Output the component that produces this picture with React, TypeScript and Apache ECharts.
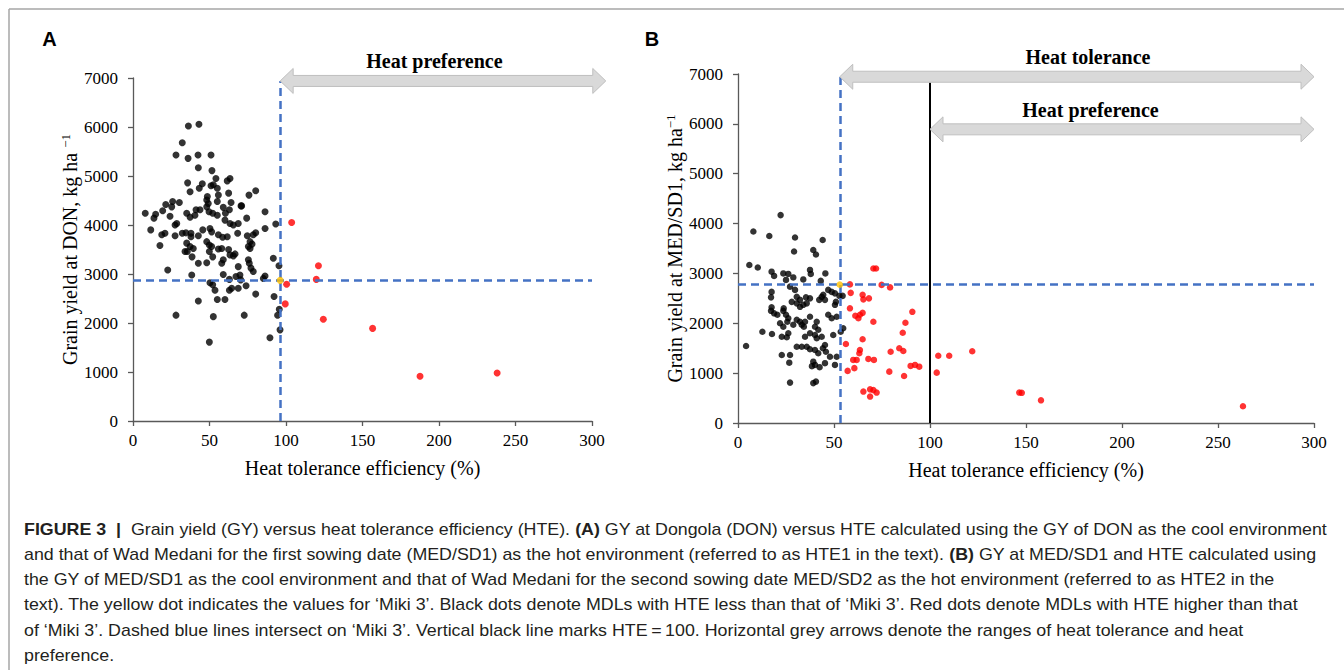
import React, { useEffect, useRef } from "react";
import * as echarts from "echarts";

// ---------- DATA ----------
const xTicks = [0, 50, 100, 150, 200, 250, 300];
const yTicks = [0, 1000, 2000, 3000, 4000, 5000, 6000, 7000];

// Panel A: GY at DON vs HTE1
const aBlack: number[][] = [
  [36.2,6020],[43.1,6055],[32.2,5680],[28.1,5430],[36,5360],[42.5,5430],[51,5430],[42.7,5170],[51.6,5110],[54.2,4950],
  [63.4,4950],[61.6,4900],[35.7,4860],[45.3,4840],[43.3,4750],[37.3,4680],[51,4800],[52.5,4820],[55.1,4750],[55.8,4610],
  [62.5,4650],[75.8,4610],[80.2,4700],[48.6,4580],[48.2,4510],[49.2,4440],[55.1,4480],[64.1,4460],[70.6,4390],[21.4,4420],
  [25.9,4480],[30.3,4460],[25.3,4370],[19.4,4290],[14.8,4220],[8,4240],[13.7,4140],[24.2,4180],[28.6,4030],[27.5,4000],
  [35.1,4240],[37.3,4160],[41.2,4310],[43.8,4310],[40.5,4200],[48.2,4370],[49.7,4270],[52.1,4240],[55.1,4200],[59,4360],
  [63,4310],[60.4,4240],[71,4390],[74.3,4140],[86.3,4270],[60.1,4100],[63.4,4030],[65.6,4000],[68.8,4030],[93.3,4020],
  [11.6,3900],[18.8,3800],[17.6,3580],[20.9,3830],[27.5,3780],[32.2,3830],[34.6,3840],[37.9,3830],[37.9,3760],[42.7,3780],
  [45.6,3900],[50.3,3930],[51.4,3860],[55.8,3800],[58.6,3750],[61.6,3760],[68.4,3830],[74.7,3780],[78.6,3800],[80.2,3840],
  [86.3,3930],[35.1,3630],[37.3,3560],[39.4,3520],[35.5,3460],[48.2,3660],[49.9,3590],[51.4,3560],[49.9,3460],[55.8,3510],
  [58,3520],[62.5,3500],[63.4,3390],[66.7,3410],[76.5,3660],[77.8,3610],[75.4,3560],[76.5,3520],[34,3460],[38.6,3350],
  [42.7,3220],[48.2,3230],[52.1,3350],[58,3220],[59,3290],[65.6,3370],[68.8,3150],[75.4,3290],[76,3220],[77.1,3120],
  [78.6,3050],[91.7,3320],[95.4,3170],[22.7,3080],[38.4,2980],[59,2990],[63,2890],[67.3,2950],[69.9,2980],[70.4,2880],
  [73.9,2760],[86.3,2960],[85.2,2910],[50.3,2820],[52.1,2780],[53.6,2670],[63,2670],[64.5,2710],[68.8,2710],[80.2,2590],
  [92.2,2540],[42.7,2450],[55.1,2480],[60.1,2480],[95.6,2280],[94.5,2160],[28.1,2160],[52.5,2130],[72.7,2160],[96.1,1860],
  [89.5,1700],[49.9,1610]
];
const aRed: number[][] = [
  [103.7,4050],[121.2,3170],[119.8,2890],[100.4,2790],[99.5,2390],[124.4,2075],[156.6,1890],[187.6,912],[238,980]
];
const aMiki: number[] = [96.2, 2870];

// Panel B: GY at MED/SD1 vs HTE2
const bBlack: number[][] = [
  [22.2,4170],[8,3840],[16.3,3750],[29.7,3720],[44.1,3670],[29.2,3440],[39.2,3470],[40.6,3380],[5.9,3170],[10.3,3120],
  [17.5,3035],[18.8,2950],[23.6,3000],[26.2,2990],[28.8,2920],[25,2870],[34,2880],[37.5,3070],[37.9,2990],[45.5,3000],
  [43.1,2850],[27.1,2735],[29.7,2670],[30.6,2530],[32.3,2470],[35.4,2520],[37.5,2500],[47,2670],[48.8,2630],[50.5,2600],
  [52.8,2550],[54.5,2550],[43.6,2530],[44.4,2570],[42.3,2470],[45.3,2470],[17.5,2630],[17.2,2520],[17.5,2320],[17.2,2250],
  [18.8,2200],[20.5,2170],[23.6,2250],[25,2170],[26.2,2100],[28,2430],[30.6,2400],[32.3,2330],[34,2370],[35.8,2400],
  [21.9,2000],[23.6,1930],[25.7,2030],[28.8,1970],[30.6,2070],[32.3,2030],[33.2,1970],[34.9,2030],[37.5,2130],[41,2030],
  [40.1,1930],[41.8,1870],[47,2170],[48.8,2100],[51.4,2130],[50.5,2370],[51,2430],[12.7,1830],[17.7,1785],[22.8,1730],
  [25.4,1720],[26.2,1800],[34.9,1730],[37.5,1800],[40.1,1765],[41,1700],[43.6,1730],[49.6,1765],[53.5,1830],[54.8,1900],
  [4.2,1545],[30.6,1530],[33.2,1530],[35.8,1530],[37.5,1480],[40.1,1465],[41.8,1400],[45.3,1565],[45.8,1430],[47.9,1330],
  [51.4,1330],[22.8,1365],[27.1,1365],[26.7,1210],[39.2,1230],[40.1,1165],[45.3,1200],[50.5,1165],[27.1,810],[39.2,800],
  [40.6,830],[23.8,2300],[42.5,1120],[38.5,1140],[44.2,1500],[34.3,1930]
];
const bRed: number[][] = [
  [58.3,2780],[58.7,2610],[70.5,3100],[71.9,3100],[74.8,2770],[79.2,2720],[64.9,2570],[65.3,2480],[68.2,2500],[58.3,2300],
  [61.1,2150],[62.7,2100],[63.5,2170],[64.9,2210],[70.5,2030],[90.8,2230],[87.2,2010],[85.8,1810],[64.9,1680],[56.2,1585],
  [63.5,1465],[63.2,1400],[61.8,1265],[60,1265],[67.9,1285],[70.8,1265],[79.5,1430],[84,1500],[86.1,1445],[89.9,1145],
  [92.2,1165],[94.4,1130],[86.5,943],[57.1,1045],[60.6,1100],[78.8,1030],[103.5,1010],[104.3,1350],[110,1350],[122,1440],
  [146.5,610],[147.8,605],[157.8,455],[263,335],[65.3,630],[68.8,675],[70.5,660],[72.2,610],[68.8,530]
];
const bMiki: number[] = [53, 2775];
const hte100 = 100;

// Arrows: [grid, fromX, toX, atY, label, labelCenterX]
const arrows: [number, number, number, number, string, number][] = [
  [0, 96.2, 309, 6940, "Heat preference", 197],
  [1, 53, 300, 6945, "Heat tolerance", 182.3],
  [1, 100, 300, 5890, "Heat preference", 183.6],
];

const captionLines: string[] = [
  "{b|FIGURE 3}  {b||}  Grain yield (GY) versus heat tolerance efficiency (HTE). {b|(A)} GY at Dongola (DON) versus HTE calculated using the GY of DON as the cool environment",
  "and that of Wad Medani for the first sowing date (MED/SD1) as the hot environment (referred to as HTE1 in the text). {b|(B)} GY at MED/SD1 and HTE calculated using",
  "the GY of MED/SD1 as the cool environment and that of Wad Medani for the second sowing date MED/SD2 as the hot environment (referred to as HTE2 in the",
  "text). The yellow dot indicates the values for \u2018Miki 3\u2019. Black dots denote MDLs with HTE less than that of \u2018Miki 3\u2019. Red dots denote MDLs with HTE higher than that",
  "of \u2018Miki 3\u2019. Dashed blue lines intersect on \u2018Miki 3\u2019. Vertical black line marks HTE\u2009=\u2009100. Horizontal grey arrows denote the ranges of heat tolerance and heat",
  "preference.",
];

const SERIF = "Liberation Serif";
const SANS = "Liberation Sans";

export default function App() {
  const ref = useRef<HTMLDivElement>(null);
  useEffect(() => {
    if (!ref.current) return;
    const chart = echarts.init(ref.current, null, { renderer: "svg" });

    const axisColor = "#595959";
    const tickLabel = { fontFamily: SERIF, fontSize: 17, color: "#000" };
    const mkX = (gi: number) => ({
      type: "value", gridIndex: gi, min: 0, max: 300, interval: 50,
      name: "Heat tolerance efficiency (%)", nameLocation: "middle", nameGap: 37,
      nameTextStyle: { fontFamily: SERIF, fontSize: 20, color: "#000" },
      axisLine: { show: true, onZero: false, lineStyle: { color: axisColor, width: 1.3 } },
      axisTick: { show: true, inside: false, length: 5, lineStyle: { color: axisColor, width: 1.3 } },
      axisLabel: { ...tickLabel, margin: 11,
        formatter: (v: number) => (xTicks.includes(v) ? String(v) : "") },
      splitLine: { show: false },
    });
    const mkY = (gi: number, name: string, gap: number) => ({
      type: "value", gridIndex: gi, min: 0, max: 7000, interval: 1000,
      name, nameLocation: "middle", nameGap: gap,
      nameTextStyle: {
        fontFamily: SERIF, fontSize: 20, color: "#000",
        rich: {
          n: { fontFamily: SERIF, fontSize: 20, lineHeight: 22, color: "#000" },
          s: { fontFamily: SERIF, fontSize: 13, lineHeight: 12, verticalAlign: "top", color: "#000" },
        },
      },
      axisLine: { show: true, onZero: false, lineStyle: { color: axisColor, width: 1.3 } },
      axisTick: { show: true, inside: false, length: 5, lineStyle: { color: axisColor, width: 1.3 } },
      axisLabel: { ...tickLabel, margin: 15,
        formatter: (v: number) => (yTicks.includes(v) ? String(v) : "") },
      splitLine: { show: false },
    });

    const dash = { color: "#4472c4", width: 2.5, type: [8, 5] };

    const option: any = {
      animation: false,
      backgroundColor: "#fff",
      textStyle: { fontFamily: SERIF },
      grid: [
        { left: 133, top: 78, width: 459, height: 343 },
        { left: 738, top: 74, width: 576, height: 349 },
      ],
      xAxis: [mkX(0), mkX(1)],
      yAxis: [
        mkY(0, "{n|Grain yield at DON, kg ha }{s|\u22121}", 52),
        mkY(1, "{n|Grain yield at MED/SD1, kg ha}{s|\u22121}", 50),
      ],
      series: [
        {
          type: "scatter", xAxisIndex: 0, yAxisIndex: 0, data: aBlack, symbolSize: 7,
          itemStyle: { color: "#000" }, silent: true,
          markLine: {
            silent: true, symbol: "none", label: { show: false }, lineStyle: dash,
            data: [
              [{ coord: [aMiki[0], 0] }, { coord: [aMiki[0], arrows[0][3]] }],
              [{ coord: [0, aMiki[1]] }, { coord: [300, aMiki[1]] }],
            ],
          },
        },
        { type: "scatter", xAxisIndex: 0, yAxisIndex: 0, data: aRed, symbolSize: 7, itemStyle: { color: "#ff0000" }, silent: true },
        { type: "scatter", xAxisIndex: 0, yAxisIndex: 0, data: [aMiki], symbolSize: 7, itemStyle: { color: "#ffc000" }, silent: true, z: 5 },
        {
          type: "scatter", xAxisIndex: 1, yAxisIndex: 1, data: bBlack, symbolSize: 6.5,
          itemStyle: { color: "#000" }, silent: true,
          markLine: {
            silent: true, symbol: "none", label: { show: false }, lineStyle: dash,
            data: [
              [{ coord: [bMiki[0], 0] }, { coord: [bMiki[0], arrows[1][3]] }],
              [{ coord: [0, bMiki[1]] }, { coord: [300, bMiki[1]] }],
              [{ coord: [hte100, 0], lineStyle: { color: "#000", width: 2, type: "solid" } }, { coord: [hte100, 6830] }],
            ],
          },
        },
        { type: "scatter", xAxisIndex: 1, yAxisIndex: 1, data: bRed, symbolSize: 6.5, itemStyle: { color: "#ff0000" }, silent: true },
        { type: "scatter", xAxisIndex: 1, yAxisIndex: 1, data: [bMiki], symbolSize: 6.5, itemStyle: { color: "#ffc000" }, silent: true, z: 5 },
      ],
    };
    chart.setOption(option);

    // ---- graphics (arrows, labels, frame, caption) ----
    const g: any[] = [];
    g.push({ type: "line", shape: { x1: 9, y1: 9, x2: 1344, y2: 9 }, style: { stroke: "#a6a6a6", lineWidth: 1.5 }, silent: true });
    g.push({ type: "line", shape: { x1: 9, y1: 9, x2: 9, y2: 670 }, style: { stroke: "#a6a6a6", lineWidth: 1.5 }, silent: true });
    g.push({ type: "text", x: 49.5, y: 39, style: { text: "A", fontFamily: SANS, fontWeight: "bold", fontSize: 20, fill: "#000", align: "center", verticalAlign: "middle" } });
    g.push({ type: "text", x: 652, y: 39, style: { text: "B", fontFamily: SANS, fontWeight: "bold", fontSize: 20, fill: "#000", align: "center", verticalAlign: "middle" } });

    const hl = 13, hh = 12.5, sh = 5.5;
    arrows.forEach(([gi, x0, x1, yv, label, lx]) => {
      const p0 = chart.convertToPixel({ gridIndex: gi } as any, [x0, yv]) as number[];
      const p1 = chart.convertToPixel({ gridIndex: gi } as any, [x1, yv]) as number[];
      const pl = chart.convertToPixel({ gridIndex: gi } as any, [lx, yv]) as number[];
      const xl = p0[0], xr = p1[0], cy = p0[1];
      g.push({
        type: "polygon", silent: true, z: 10,
        shape: {
          points: [
            [xl, cy], [xl + hl, cy - hh], [xl + hl, cy - sh], [xr - hl, cy - sh], [xr - hl, cy - hh],
            [xr, cy], [xr - hl, cy + hh], [xr - hl, cy + sh], [xl + hl, cy + sh], [xl + hl, cy + hh],
          ],
        },
        style: { fill: "#d9d9d9", stroke: "#bfbfbf", lineWidth: 1 },
      });
      g.push({
        type: "text", x: pl[0], y: cy - 19.5, z: 10,
        style: { text: label, fontFamily: SERIF, fontWeight: "bold", fontSize: 20, fill: "#000", align: "center", verticalAlign: "middle" },
      });
    });

    // caption: measure to fit width
    const capSize = 17;
    const canvas = document.createElement("canvas");
    const ctx = canvas.getContext("2d")!;
    const measure = (line: string) => {
      let w = 0;
      const re = /\{b\|([^}]*)\}/g;
      let last = 0, m: RegExpExecArray | null;
      while ((m = re.exec(line))) {
        ctx.font = `${capSize}px "${SANS}"`;
        w += ctx.measureText(line.slice(last, m.index)).width;
        ctx.font = `bold ${capSize}px "${SANS}"`;
        w += ctx.measureText(m[1]).width;
        last = m.index + m[0].length;
      }
      ctx.font = `${capSize}px "${SANS}"`;
      w += ctx.measureText(line.slice(last)).width;
      return w;
    };
    const sx = 1304 / measure(captionLines[0]);
    captionLines.forEach((line, i) => {
      g.push({
        type: "text", x: 24, y: 529 + i * 25.2, scaleX: sx, silent: true,
        style: {
          text: line, fontFamily: SANS, fontSize: capSize, fill: "#231f20", align: "left", verticalAlign: "middle",
          rich: { b: { fontFamily: SANS, fontSize: capSize, fontWeight: "bold", fill: "#231f20" } },
        },
      });
    });

    chart.setOption({ graphic: g });
    return () => chart.dispose();
  }, []);

  return <div ref={ref} style={{ position: "absolute", left: 0, top: 0, width: 1344, height: 670, background: "#fff" }} />;
}
